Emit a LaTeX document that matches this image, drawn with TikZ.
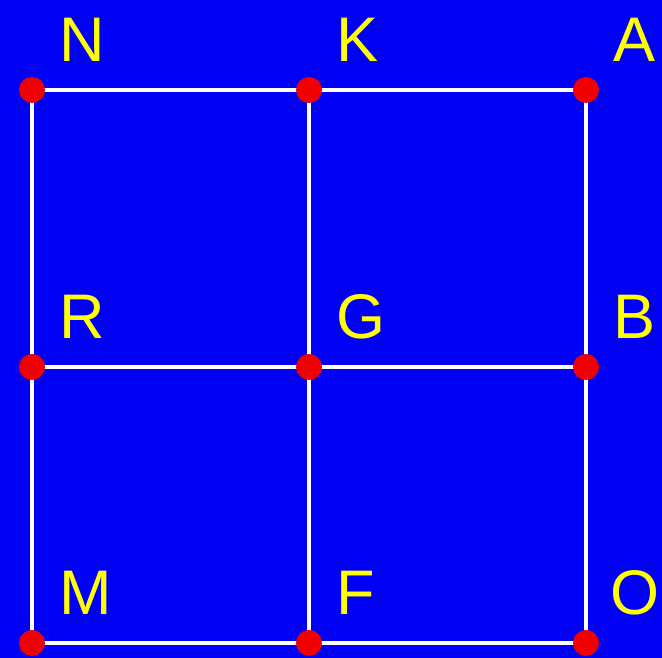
\documentclass[tikz,border=0pt]{standalone}
\usepackage{fontspec}
\setmainfont{Liberation Sans}
\usetikzlibrary{calc,backgrounds}
\definecolor{bg}{HTML}{0000F5}
\definecolor{pt}{HTML}{F00000}
\definecolor{lbl}{HTML}{FFFF00}

\begin{document}
\begin{tikzpicture}[x=1pt, y=1pt,
  dot/.style={circle, fill=pt, minimum size=26pt, inner sep=0pt},
  edge/.style={white, line width=4pt},
  lab/.style={text=lbl, font=\fontsize{63}{70}\selectfont, anchor=base west, inner sep=0pt}]
  \useasboundingbox (0,0) rectangle (662,658);
  % points
  \node[dot] (N) at (32,568) {};
  \node[dot] (K) at (309,568) {};
  \node[dot] (A) at (586,568) {};
  \node[dot] (R) at (32,291) {};
  \node[dot] (G) at (309,291) {};
  \node[dot] (B) at (586,291) {};
  \node[dot] (M) at (32,15) {};
  \node[dot] (F) at (309,15) {};
  \node[dot] (O) at (586,15) {};
  \begin{scope}[on background layer]
    \fill[bg] (0,0) rectangle (662,658);
    \draw[edge] (N.center) -- (K.center) -- (A.center);
    \draw[edge] (R.center) -- (G.center) -- (B.center);
    \draw[edge] (M.center) -- (F.center) -- (O.center);
    \draw[edge] (N.center) -- (R.center) -- (M.center);
    \draw[edge] (K.center) -- (G.center) -- (F.center);
    \draw[edge] (A.center) -- (B.center) -- (O.center);
  \end{scope}
  % labels
  \node[lab] at ($(N)+(27,28)$) {N};
  \node[lab] at ($(K)+(27,28)$) {K};
  \node[lab] at ($(A)+(27,28)$) {A};
  \node[lab] at ($(R)+(27,28)$) {R};
  \node[lab] at ($(G)+(27,28)$) {G};
  \node[lab] at ($(B)+(27,28)$) {B};
  \node[lab] at ($(M)+(27,28)$) {M};
  \node[lab] at ($(F)+(27,28)$) {F};
  \node[lab] at ($(O)+(24,28)$) {O};
\end{tikzpicture}
\end{document}
